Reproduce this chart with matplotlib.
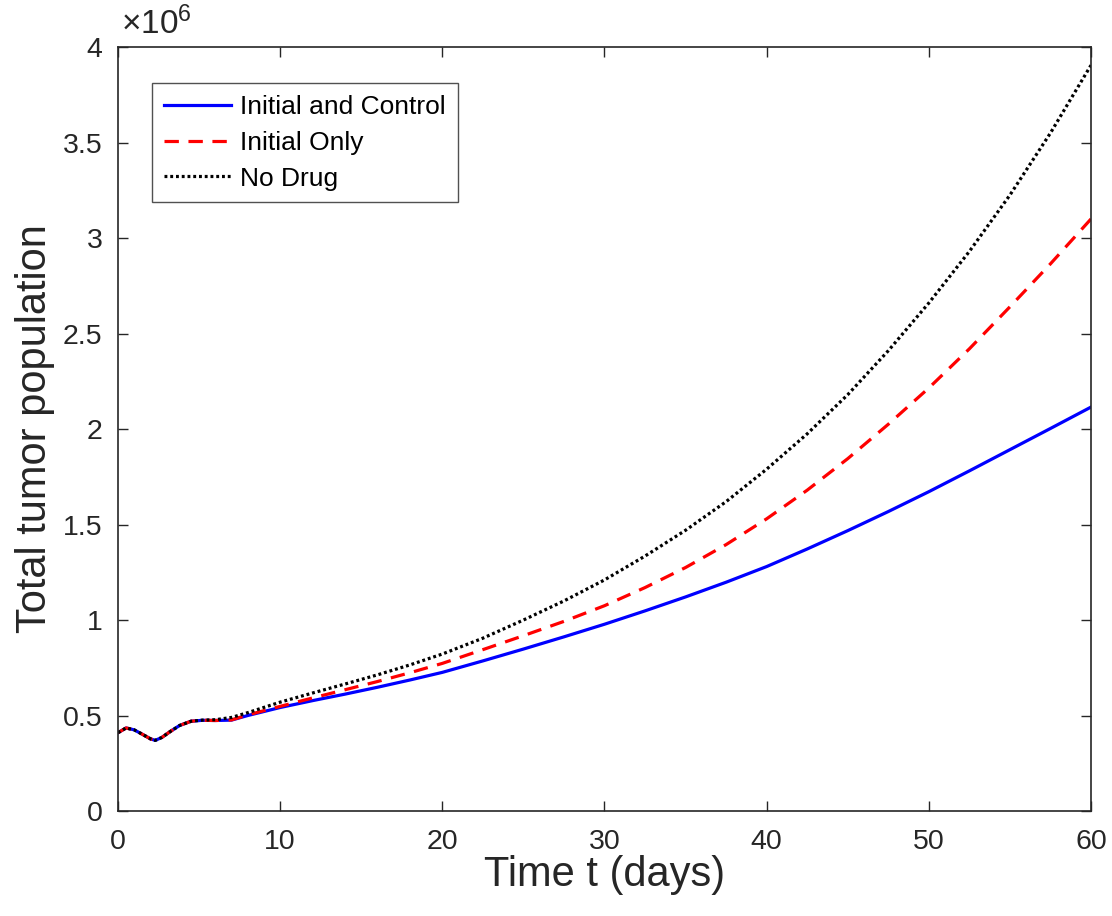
import numpy as np
import matplotlib.pyplot as plt
from matplotlib.ticker import FuncFormatter

plt.rcParams['font.family'] = ['Liberation Sans', 'DejaVu Sans']
plt.rcParams['mathtext.fontset'] = 'custom'
plt.rcParams['mathtext.rm'] = 'Liberation Sans'
plt.rcParams['mathtext.it'] = 'Liberation Sans:italic'

# time (days) and total tumor population (in millions of cells)
t_days = [0, 0.5, 1.0, 1.5, 2.0, 2.3, 2.7, 3.2, 3.8, 4.5, 5.2, 6, 7, 8,
          10, 12, 14, 16, 18, 20, 22.5, 25, 27.5, 30, 32.5, 35, 37.5, 40,
          42.5, 45, 47.5, 50, 52.5, 55, 57.5, 60]

initial_and_control = [0.410, 0.435, 0.425, 0.402, 0.378, 0.370, 0.385, 0.415, 0.448,
                       0.470, 0.475, 0.474, 0.476, 0.500, 0.542, 0.578, 0.612, 0.648,
                       0.686, 0.726, 0.786, 0.848, 0.912, 0.978, 1.048, 1.121, 1.198,
                       1.280, 1.372, 1.468, 1.568, 1.672, 1.781, 1.892, 2.003, 2.115]

initial_only = [0.410, 0.435, 0.425, 0.402, 0.378, 0.370, 0.385, 0.415, 0.448,
                0.470, 0.475, 0.474, 0.477, 0.503, 0.548, 0.592, 0.635, 0.678,
                0.724, 0.773, 0.845, 0.918, 0.993, 1.075, 1.170, 1.275, 1.395,
                1.530, 1.680, 1.845, 2.025, 2.215, 2.420, 2.640, 2.865, 3.100]

no_drug = [0.410, 0.435, 0.425, 0.402, 0.378, 0.370, 0.385, 0.415, 0.448,
           0.470, 0.476, 0.478, 0.490, 0.515, 0.570, 0.618, 0.665, 0.713,
           0.765, 0.822, 0.905, 1.000, 1.100, 1.210, 1.335, 1.470, 1.620,
           1.790, 1.975, 2.180, 2.410, 2.660, 2.930, 3.225, 3.550, 3.905]

axis_grey = '#262626'

fig = plt.figure(figsize=(11.12, 9.16), dpi=100)
ax = fig.add_axes([0.1061, 0.1146, 0.875, 0.834])

ax.plot(t_days, initial_and_control, color='#0000ff', lw=2.3, label='Initial and Control')
ax.plot(t_days, initial_only, color='#ff0000', lw=2.3, dashes=(4.5, 3), label='Initial Only')
ax.plot(t_days, no_drug, color='black', lw=2.3, dashes=(0.9, 0.9), label='No Drug')

ax.set_xlim(0, 60)
ax.set_ylim(0, 4)
ax.set_xticks(np.arange(0, 61, 10))
ax.set_yticks(np.arange(0, 4.01, 0.5))
ax.yaxis.set_major_formatter(FuncFormatter(lambda v, p: f'{v:g}'))

for s in ax.spines.values():
    s.set_color(axis_grey)
    s.set_linewidth(1.2)
ax.tick_params(direction='in', length=7, width=1.0, color=axis_grey,
               labelcolor=axis_grey, labelsize=20.5, top=True, right=True)
ax.tick_params(axis='x', pad=13)
ax.tick_params(axis='y', pad=11)

ax.set_xlabel('Time t (days)', fontsize=30, color=axis_grey, labelpad=0)
ax.set_ylabel('Total tumor population', fontsize=30, color=axis_grey, labelpad=6)

ax.text(0.003, 1.008, r'$\times10^{6}$', transform=ax.transAxes,
        fontsize=24, color=axis_grey, ha='left', va='bottom')

leg = ax.legend(loc='upper left', bbox_to_anchor=(0.035, 0.953), borderaxespad=0,
                fontsize=19, handlelength=2.55, handletextpad=0.35,
                labelspacing=0.45, borderpad=0.45, fancybox=False)
leg.get_frame().set_edgecolor(axis_grey)
leg.get_frame().set_linewidth(1.0)
for txt in leg.get_texts():
    txt.set_color('black')

fig.savefig('out.png', dpi=100, facecolor='white')
